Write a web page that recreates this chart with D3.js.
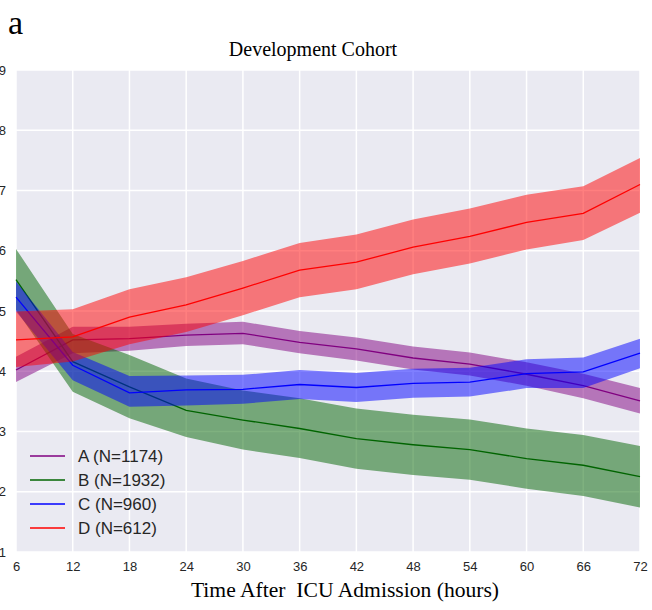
<!DOCTYPE html>
<html>
<head>
<meta charset="utf-8">
<script src="https://d3js.org/d3.v7.min.js"></script>
<style>
  body { margin: 0; background: #fff; }
  .tick text { font-family: "Liberation Sans", Arial, sans-serif; font-size: 13px; fill: #262626; }
</style>
</head>
<body>
<div id="chart"></div>
<script>
// hours after admission
var hours = [6, 12, 18, 24, 30, 36, 42, 48, 54, 60, 66, 72];

// group means and band limits
var aMean = [4.02, 4.52, 4.54, 4.60, 4.63, 4.48, 4.37, 4.22, 4.12, 3.95, 3.76, 3.51];
var aLow  = [3.82, 4.30, 4.34, 4.42, 4.45, 4.30, 4.18, 4.03, 3.93, 3.76, 3.55, 3.30];
var aHigh = [4.24, 4.74, 4.74, 4.79, 4.82, 4.67, 4.56, 4.41, 4.31, 4.15, 3.96, 3.72];

var bMean = [5.52, 4.16, 3.74, 3.35, 3.19, 3.05, 2.88, 2.78, 2.70, 2.55, 2.44, 2.25];
var bLow  = [5.02, 3.66, 3.22, 2.91, 2.70, 2.56, 2.38, 2.28, 2.20, 2.05, 1.93, 1.74];
var bHigh = [6.03, 4.62, 4.27, 3.88, 3.68, 3.55, 3.38, 3.28, 3.20, 3.05, 2.94, 2.76];

var cMean = [5.23, 4.10, 3.64, 3.69, 3.70, 3.78, 3.73, 3.80, 3.82, 3.96, 3.99, 4.30];
var cLow  = [4.99, 3.85, 3.41, 3.43, 3.46, 3.54, 3.49, 3.56, 3.58, 3.72, 3.72, 4.05];
var cHigh = [5.49, 4.32, 3.92, 3.93, 3.94, 4.02, 3.97, 4.04, 4.06, 4.20, 4.23, 4.54];

var dMean = [4.52, 4.57, 4.90, 5.10, 5.38, 5.68, 5.81, 6.06, 6.24, 6.47, 6.62, 7.10];
var dLow  = [4.07, 4.16, 4.45, 4.65, 4.93, 5.23, 5.36, 5.61, 5.79, 6.02, 6.18, 6.63];
var dHigh = [4.99, 5.03, 5.36, 5.56, 5.83, 6.13, 6.27, 6.52, 6.70, 6.93, 7.07, 7.54];

var groupNames = ["A (N=1174)", "B (N=1932)", "C (N=960)", "D (N=612)"];
var groupColors = ["purple", "darkgreen", "blue", "red"];
var xTicks = [6, 12, 18, 24, 30, 36, 42, 48, 54, 60, 66, 72];
var yTicks = [1, 2, 3, 4, 5, 6, 7, 8, 9];

var width = 652, height = 610;
// plot box (note: "top" is reserved on window, so use m.*)
var m = {left: 16, right: 640, top: 70, bottom: 552};

var svg = d3.select("#chart").append("svg")
    .attr("width", width)
    .attr("height", height);

var x = d3.scaleLinear().domain([6, 72]).range([m.left, m.right]);
var y = d3.scaleLinear().domain([1, 9]).range([m.bottom, m.top]);

// background
svg.append("rect")
    .attr("x", m.left).attr("y", m.top)
    .attr("width", m.right - m.left).attr("height", m.bottom - m.top)
    .attr("fill", "#eaeaf2");

// grid
svg.append("g").selectAll("line").data(xTicks).enter().append("line")
    .attr("x1", d => x(d)).attr("x2", d => x(d))
    .attr("y1", m.top).attr("y2", m.bottom)
    .attr("stroke", "#fff").attr("stroke-width", 1.5);
svg.append("g").selectAll("line").data(yTicks).enter().append("line")
    .attr("x1", m.left).attr("x2", m.right)
    .attr("y1", d => y(d)).attr("y2", d => y(d))
    .attr("stroke", "#fff").attr("stroke-width", 1.5);

// axes (labels only)
var xAxis = svg.append("g")
    .attr("transform", "translate(0," + m.bottom + ")")
    .call(d3.axisBottom(x).tickValues(xTicks).tickSize(0).tickPadding(10));
xAxis.select(".domain").remove();

var yAxis = svg.append("g")
    .attr("transform", "translate(" + m.left + ",0)")
    .call(d3.axisLeft(y).tickValues(yTicks).tickSize(0).tickPadding(10));
yAxis.select(".domain").remove();

var groups = [
  {mean: aMean, low: aLow, high: aHigh},
  {mean: bMean, low: bLow, high: bHigh},
  {mean: cMean, low: cLow, high: cHigh},
  {mean: dMean, low: dLow, high: dHigh}
];

var area = d3.area()
    .x((d, i) => x(hours[i]))
    .y0(d => y(d[0]))
    .y1(d => y(d[1]));
var line = d3.line()
    .x((d, i) => x(hours[i]))
    .y(d => y(d));

var plot = svg.append("g");
groups.forEach(function (g, k) {
  var band = hours.map((h, i) => [g.low[i], g.high[i]]);
  plot.append("path")
      .attr("d", area(band))
      .attr("fill", groupColors[k])
      .attr("fill-opacity", 0.5);
  plot.append("path")
      .attr("d", line(g.mean))
      .attr("fill", "none")
      .attr("stroke", groupColors[k])
      .attr("stroke-width", 1.3);
});

// legend
var legend = svg.append("g").attr("transform", "translate(30,456)");
groupNames.forEach(function (name, k) {
  var row = legend.append("g").attr("transform", "translate(0," + (k * 24) + ")");
  row.append("line")
      .attr("x1", 0).attr("x2", 35)
      .attr("stroke", groupColors[k]).attr("stroke-width", 1.3);
  row.append("text")
      .attr("x", 48).attr("y", 6)
      .attr("font-family", "Liberation Sans, Arial, sans-serif")
      .attr("font-size", 17)
      .attr("fill", "#262626")
      .text(name);
});

// titles
svg.append("text")
    .attr("x", 8).attr("y", 34)
    .attr("font-family", "Liberation Serif, Times New Roman, serif")
    .attr("font-size", 34)
    .text("a");

svg.append("text")
    .attr("x", 313).attr("y", 56)
    .attr("text-anchor", "middle")
    .attr("font-family", "Liberation Serif, Times New Roman, serif")
    .attr("font-size", 20)
    .text("Development Cohort");

svg.append("text")
    .attr("x", 345).attr("y", 597)
    .attr("text-anchor", "middle")
    .attr("font-family", "Liberation Serif, Times New Roman, serif")
    .attr("font-size", 21.6)
    .style("white-space", "pre")
    .text("Time After  ICU Admission (hours)");
</script>
</body>
</html>
